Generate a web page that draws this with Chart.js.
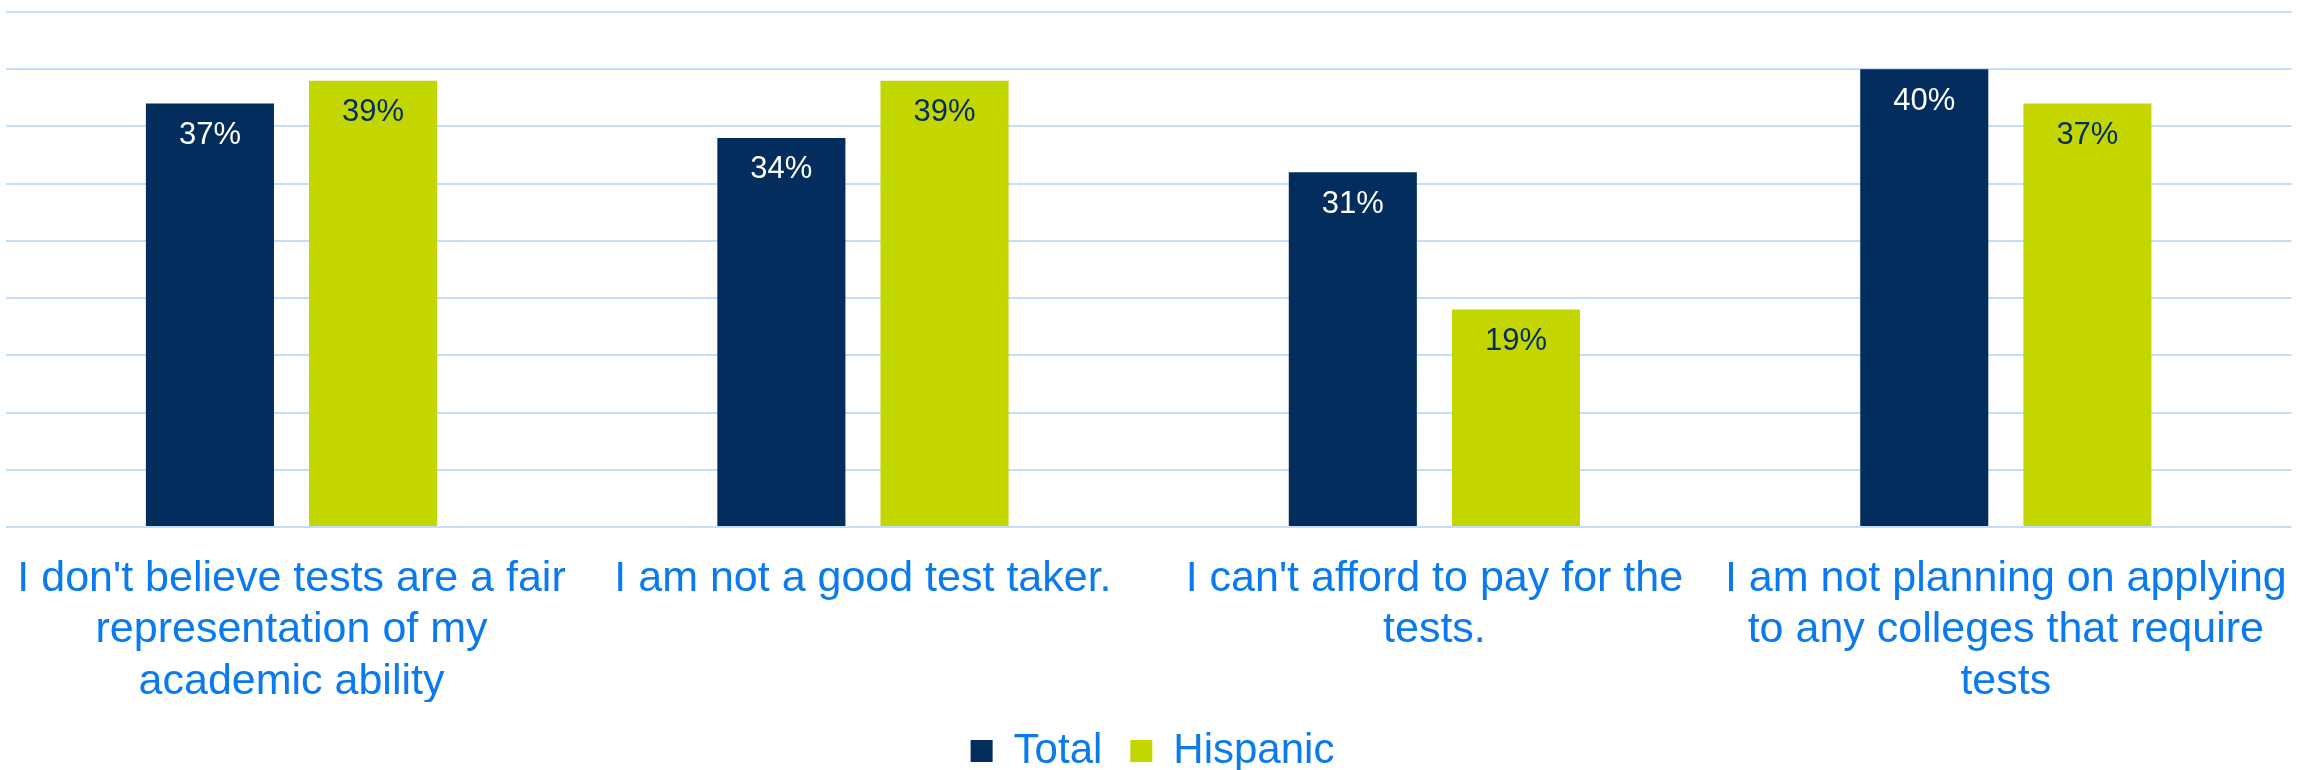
<!DOCTYPE html>
<html>
<head>
    <title>Reasons for not taking tests</title>
    <meta charset="utf-8" />
    <script src="https://cdn.jsdelivr.net/npm/chart.js"></script>
    <style>
        body { margin: 0; background: #ffffff; }
        #wrap { width: 2305px; height: 770px; }
    </style>
</head>
<body>
    <div id="wrap"><canvas id="chart" width="2305" height="770"></canvas></div>
    <script>
        // 카테고리 (줄바꿈된 라벨)
        var categories = [
            ["I don't believe tests are a fair", "representation of my", "academic ability"],
            ["I am not a good test taker."],
            ["I can't afford to pay for the", "tests."],
            ["I am not planning on applying", "to any colleges that require", "tests"]
        ];
        var seriesNames = ['Total', 'Hispanic'];
        var totalValues = [37, 34, 31, 40];
        var hispanicValues = [39, 39, 19, 37];

        var navy = '#022d5c';
        var lime = '#c4d600';
        var textBlue = '#0a7aee';
        var fontFamily = '"Liberation Sans", Arial, sans-serif';

        // 막대 위 값 표시
        var valueLabels = {
            id: 'valueLabels',
            afterDatasetsDraw: function(chart) {
                var ctx = chart.ctx;
                var colors = ['#ffffff', navy];
                chart.data.datasets.forEach(function(ds, i) {
                    chart.getDatasetMeta(i).data.forEach(function(bar, j) {
                        ctx.save();
                        ctx.font = '31px ' + fontFamily;
                        ctx.fillStyle = colors[i];
                        ctx.textAlign = 'center';
                        ctx.textBaseline = 'middle';
                        ctx.fillText(ds.data[j] + '%', bar.x, bar.y + 32);
                        ctx.restore();
                    });
                });
            }
        };

        new Chart(document.getElementById('chart'), {
            type: 'bar',
            data: {
                labels: categories,
                datasets: [{
                    label: seriesNames[0],
                    data: totalValues,
                    backgroundColor: navy,
                    categoryPercentage: 0.571,
                    barPercentage: 0.785
                }, {
                    label: seriesNames[1],
                    data: hispanicValues,
                    backgroundColor: lime,
                    categoryPercentage: 0.571,
                    barPercentage: 0.785
                }]
            },
            options: {
                responsive: false,
                animation: false,
                layout: {
                    padding: { top: 12, left: 4, right: 4, bottom: -12 }
                },
                plugins: {
                    tooltip: { enabled: false },
                    legend: {
                        position: 'bottom',
                        labels: {
                            boxWidth: 22,
                            boxHeight: 22,
                            padding: 28,
                            color: textBlue,
                            font: { size: 42, family: fontFamily }
                        }
                    }
                },
                scales: {
                    x: {
                        grid: { display: false },
                        border: { display: false },
                        ticks: {
                            color: textBlue,
                            font: { size: 43, family: fontFamily },
                            padding: 18,
                            maxRotation: 0,
                            autoSkip: false
                        },
                        afterFit: function(scale) {
                            scale.height = 175;
                        }
                    },
                    y: {
                        min: 0,
                        max: 45,
                        ticks: { display: false, stepSize: 5 },
                        grid: { color: '#c2defc', lineWidth: 2, drawTicks: false },
                        border: { display: false }
                    }
                }
            },
            plugins: [valueLabels]
        });
    </script>
</body>
</html>
